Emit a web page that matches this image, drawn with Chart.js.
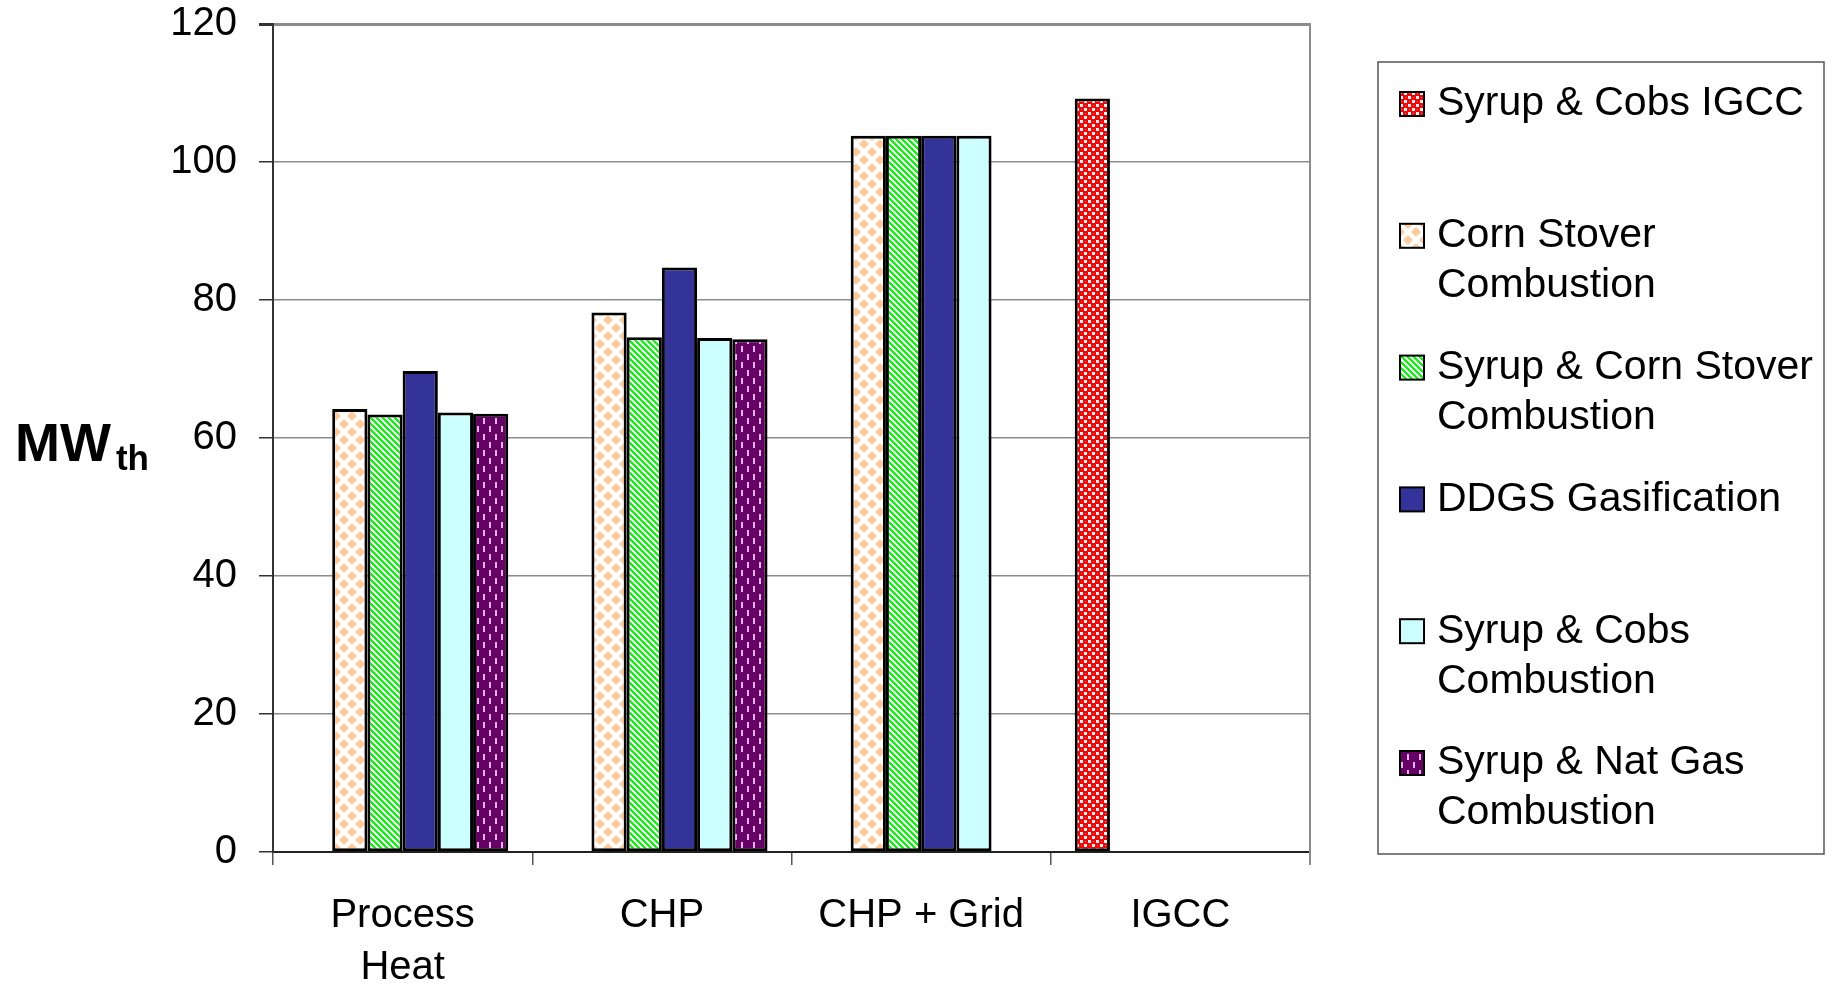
<!DOCTYPE html>
<html>
<head>
<meta charset="utf-8">
<script src="https://cdn.jsdelivr.net/npm/chart.js@4/dist/chart.umd.min.js"></script>
<style>
  body { margin: 0; background: #fff; }
  canvas { display: block; }
</style>
</head>
<body>
<canvas id="chart" width="1832" height="986"></canvas>
<script>
// data
const categories = [['Process', 'Heat'], 'CHP', 'CHP + Grid', 'IGCC'];
const seriesNames = ['Syrup & Cobs IGCC', 'Corn Stover Combustion', 'Syrup & Corn Stover Combustion',
  'DDGS Gasification', 'Syrup & Cobs Combustion', 'Syrup & Nat Gas Combustion'];
const legendLines = [['Syrup & Cobs IGCC'], ['Corn Stover', 'Combustion'], ['Syrup & Corn Stover', 'Combustion'],
  ['DDGS Gasification'], ['Syrup & Cobs', 'Combustion'], ['Syrup & Nat Gas', 'Combustion']];
const syrupCobsIgcc = [null, null, null, 109.2];
const cornStover = [64.2, 78.2, 103.8, null];
const syrupCornStover = [63.4, 74.6, 103.8, null];
const ddgsGasification = [69.7, 84.7, 103.8, null];
const syrupCobs = [63.7, 74.5, 103.8, null];
const syrupNatGas = [63.5, 74.3, null, null];
const yMin = 0, yMax = 120, yStep = 20;

const FONT = "'Liberation Sans', Arial, sans-serif";

function makePattern(w, h, draw) {
  const c = document.createElement('canvas');
  c.width = w; c.height = h;
  const g = c.getContext('2d');
  draw(g, w, h);
  return g.createPattern(c, 'repeat');
}

// fills
const redChecks = makePattern(8, 8, function(g) {
  g.fillStyle = '#ff0000'; g.fillRect(0, 0, 8, 8);
  g.fillStyle = '#ffffff';
  g.fillRect(0, 0, 3, 3); g.fillRect(4, 4, 3, 3);
  g.fillStyle = '#ff8080';
  g.fillRect(5, 1, 1, 1); g.fillRect(1, 5, 1, 1);
});
const peachDiamonds = makePattern(16, 16, function(g) {
  g.fillStyle = '#ffffff'; g.fillRect(0, 0, 16, 16);
  g.fillStyle = '#ffcc99';
  [[8, 8], [0, 0], [16, 0], [0, 16], [16, 16]].forEach(function(p) {
    g.beginPath();
    g.moveTo(p[0], p[1] - 5); g.lineTo(p[0] + 5, p[1]);
    g.lineTo(p[0], p[1] + 5); g.lineTo(p[0] - 5, p[1]);
    g.closePath(); g.fill();
  });
});
const greenStripes = makePattern(6, 6, function(g) {
  g.fillStyle = '#ffffff'; g.fillRect(0, 0, 6, 6);
  g.fillStyle = '#00ff00';
  for (let x = 0; x < 6; x++) {
    for (let y = 0; y < 6; y++) {
      if (((x - y) % 6 + 6) % 6 < 3) g.fillRect(x, y, 1, 1);
    }
  }
});
const purpleDashes = makePattern(12, 16, function(g) {
  g.fillStyle = '#660066'; g.fillRect(0, 0, 12, 16);
  g.fillStyle = '#e0b8e0';
  g.fillRect(3, 2, 2, 6); g.fillRect(9, 10, 2, 6);
});
const fills = [redChecks, peachDiamonds, greenStripes, '#333399', '#ccffff', purpleDashes];
const seriesData = [syrupCobsIgcc, cornStover, syrupCornStover, ddgsGasification, syrupCobs, syrupNatGas];

const datasets = seriesNames.map(function(name, i) {
  return {
    label: name,
    data: seriesData[i],
    backgroundColor: fills[i],
    borderColor: '#000000',
    borderWidth: 3,
    borderSkipped: false,
    barPercentage: 1,
    categoryPercentage: 0.815
  };
});

const framePlugin = {
  id: 'frame',
  afterDraw(chart) {
    const ctx = chart.ctx, a = chart.chartArea;
    ctx.save();
    // right edge of plot area
    ctx.strokeStyle = '#8c8c8c';
    ctx.lineWidth = 2;
    ctx.beginPath();
    ctx.moveTo(a.right, a.top - 1);
    ctx.lineTo(a.right, a.bottom + 13);
    ctx.stroke();

    // y axis title MW_th
    ctx.fillStyle = '#000';
    ctx.textBaseline = 'alphabetic';
    ctx.textAlign = 'left';
    ctx.font = 'bold 54px ' + FONT;
    ctx.fillText('MW', 15, 461);
    const w = ctx.measureText('MW').width;
    ctx.font = 'bold 35px ' + FONT;
    ctx.fillText('th', 15 + w + 5, 470);

    // legend
    const lx = 1378, ly = 62, lw = 446, lh = 792;
    ctx.fillStyle = '#fff';
    ctx.fillRect(lx, ly, lw, lh);
    ctx.strokeStyle = '#555';
    ctx.lineWidth = 1.5;
    ctx.strokeRect(lx, ly, lw, lh);
    ctx.font = '41px ' + FONT;
    ctx.textBaseline = 'middle';
    chart.data.datasets.forEach(function(ds, i) {
      const cy = 104 + i * 131.8;
      ctx.fillStyle = ds.backgroundColor;
      ctx.fillRect(1400, cy - 12, 24, 24);
      ctx.strokeStyle = '#000';
      ctx.lineWidth = 2;
      ctx.strokeRect(1400, cy - 12, 24, 24);
      ctx.fillStyle = '#000';
      legendLines[i].forEach(function(line, k) {
        ctx.fillText(line, 1437, cy + k * 50);
      });
    });
    ctx.restore();
  }
};

new Chart(document.getElementById('chart'), {
  type: 'bar',
  data: { labels: categories, datasets: datasets },
  options: {
    responsive: false,
    animation: false,
    layout: { padding: { left: 0, top: 24, right: 522, bottom: 0 } },
    plugins: { legend: { display: false }, tooltip: { enabled: false } },
    scales: {
      x: {
        afterFit(scale) { scale.height = 134; scale.paddingLeft = 0; scale.paddingRight = 0; },
        grid: { offset: true, drawOnChartArea: false, tickLength: 13, color: '#555', lineWidth: 1.5 },
        border: { color: '#222', width: 2 },
        ticks: { color: '#000', font: { family: FONT, size: 40, lineHeight: 1.3 }, padding: 25, maxRotation: 0, autoSkip: false }
      },
      y: {
        min: yMin,
        max: yMax,
        afterFit(scale) { scale.width = 273; scale.paddingTop = 0; scale.paddingBottom = 0; },
        grid: {
          color(c) { return c.tick.value === 0 ? 'rgba(0,0,0,0)' : '#8c8c8c'; },
          lineWidth(c) { return c.tick.value === yMax ? 3 : 1.5; },
          tickColor: '#333',
          tickLength: 14
        },
        border: { color: '#333', width: 2 },
        ticks: { stepSize: yStep, color: '#000', font: { family: FONT, size: 40 }, padding: 22 }
      }
    }
  },
  plugins: [framePlugin]
});
</script>
</body>
</html>
